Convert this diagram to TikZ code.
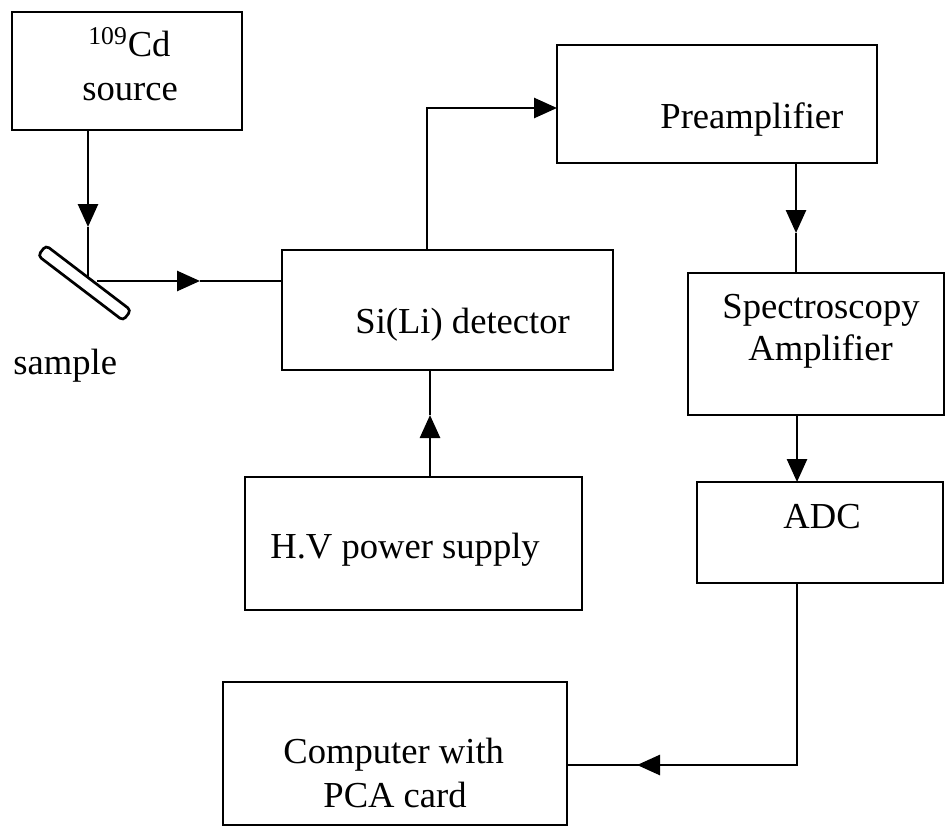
\documentclass[tikz,border=0pt]{standalone}
\usepackage{fontspec}
\setmainfont{Liberation Serif}
\usetikzlibrary{arrows.meta}
\begin{document}
\begin{tikzpicture}[x=0.5pt,y=-0.5pt,
  box/.style={draw,line width=1.35pt,inner sep=0pt,outer sep=0pt,rectangle},
  lbl/.style={anchor=base west,inner sep=0pt,font=\fontsize{18.3}{22}\selectfont},
  ln/.style={line width=1.35pt},
  arr/.style={ln,-{Triangle[length=11.5pt,width=10pt]}}]
\useasboundingbox[fill=white] (0,0) rectangle (945,829);

% boxes
\node[box,minimum width=115pt,minimum height=59pt] (cd) at (127,71) {};
\node[box,minimum width=160pt,minimum height=59pt] (pre) at (717,104) {};
\node[box,minimum width=165.5pt,minimum height=60pt] (det) at (447.5,310) {};
\node[box,minimum width=128pt,minimum height=71pt] (spec) at (816,344) {};
\node[box,minimum width=123pt,minimum height=50.5pt] (adc) at (820,532.5) {};
\node[box,minimum width=168.5pt,minimum height=66.5pt] (hv) at (413.5,543.5) {};
\node[box,minimum width=172pt,minimum height=71.5pt] (comp) at (395,753.5) {};
\node[box,rounded corners=2pt,minimum width=53.5pt,minimum height=6.5pt,rotate=-37.3] (smp) at (84.5,283) {};

% texts
\node[lbl] (tcd) at (88,57) {\textsuperscript{109}Cd};
\node[lbl] (tsrc) at (82,100) {source};
\node[lbl] (tpre) at (660,128) {Preamplifier};
\node[lbl] (tdet) at (355,333) {Si(Li) detector};
\node[lbl] (tsp1) at (722,318) {Spectroscopy};
\node[lbl] (tsp2) at (748,360) {Amplifier};
\node[lbl] (tadc) at (783,528) {ADC};
\node[lbl] (thv) at (270,558) {H.V power supply};
\node[lbl] (tc1) at (283,763) {Computer with};
\node[lbl] (tc2) at (323,807) {PCA card};
\node[lbl] (tsmp) at (13,374) {sample};

% connector points
\coordinate (a1) at (88,227);
\coordinate (sv) at (88,277.5);
\coordinate (sh) at (97,281);
\coordinate (a2) at (200,281);
\coordinate (dt) at (427,108);
\coordinate (a4) at (796,233);
\coordinate (a6) at (430,415);
\coordinate (ac) at (797,765);
\coordinate (a7) at (637,765);

% source -> sample
\draw[arr] (cd.south -| a1) -- (a1);
\draw[ln] (a1) -- (sv);
% sample -> detector
\draw[arr] (sh) -- (a2);
\draw[ln] (a2) -- (sh -| det.west);
% detector -> preamplifier
\draw[arr] (det.north -| dt) -- (dt) -- (dt -| pre.west);
% preamplifier -> spectroscopy amplifier
\draw[arr] (pre.south -| a4) -- (a4);
\draw[ln] (a4) -- (spec.north -| a4);
% spectroscopy amplifier -> ADC
\draw[arr] (spec.south -| ac) -- (adc.north -| ac);
% HV -> detector
\draw[arr] (hv.north -| a6) -- (a6);
\draw[ln] (a6) -- (det.south -| a6);
% ADC -> computer
\draw[ln] (adc.south -| ac) -- (ac) -- (a7);
\draw[arr] (ac) -- (a7);
\draw[ln] (a7) -- (a7 -| comp.east);
\end{tikzpicture}
\end{document}
